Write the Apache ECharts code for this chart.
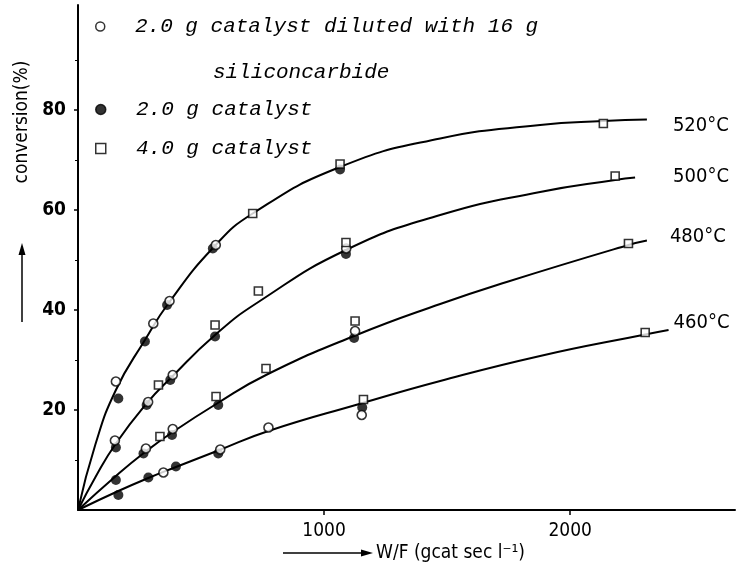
<!DOCTYPE html>
<html><head><meta charset="utf-8">
<script src="https://cdn.jsdelivr.net/npm/echarts@6/dist/echarts.min.js"></script>
<style>html,body{margin:0;padding:0;background:#fff}#c{width:742px;height:576px}</style>
</head><body><div id="c"></div>
<script>
// ---- data ----
const curveNames = ['520°C', '500°C', '480°C', '460°C'];
const curve520 = [[0,0],[70,13],[154,24],[272,34],[367,41.3],[550,52.5],[710,59.3],[1065,68.6],[1472,74.3],[1878,77],[2135,77.8],[2312,78.1]];
const curve500 = [[0,0],[70,6.5],[154,13.3],[279,21.3],[377,26.4],[557,35],[733,41.6],[1089,52],[1472,59],[1878,63.6],[2183,66],[2264,66.5]];
const curve480 = [[0,0],[154,6.8],[270,11.5],[385,15.6],[565,21.3],[764,27],[1122,34.8],[1472,41.2],[1742,45.6],[2237,53],[2312,53.9]];
const curve460 = [[0,0],[164,3.8],[286,6.4],[398,8.6],[570,11.9],[774,15.8],[1150,21.3],[1472,25.8],[1878,30.8],[2305,35.1],[2400,36]];

const seriesNames = ['2.0 g catalyst diluted with 16 g', '2.0 g catalyst', '4.0 g catalyst'];
const dilutedPts = [[154,25.7],[306,37.3],[372,41.8],[560,53],[150,13.9],[285,21.6],[385,27],[1090,52.3],[276,12.3],[385,16.2],[1126,35.8],[347,7.5],[578,12.1],[774,16.5],[1153,19]];
const cat2Pts = [[164,22.3],[272,33.7],[362,41],[548,52.3],[1065,68.1],[154,12.5],[279,21],[375,26],[557,34.7],[1089,51.2],[154,6],[266,11.3],[382,15],[570,21],[1122,34.4],[164,3],[286,6.5],[398,8.7],[570,11.3],[1155,20.5]];
const cat4Pts = [[710,59.3],[1065,69.2],[2135,77.3],[327,25],[557,37],[733,43.8],[1089,53.5],[2183,66.8],[333,14.7],[561,22.7],[764,28.3],[1126,37.8],[2237,53.3],[1160,22.1],[2305,35.5]];

const xTicks = [1000, 2000];
const yTicks = [20, 40, 60, 80];

// ---- chart ----
const chart = echarts.init(document.getElementById('c'), null, {renderer: 'canvas'});
const numFont = '"DejaVu Sans Condensed", "DejaVu Sans", sans-serif';
const monoFont = '"Liberation Mono", "DejaVu Sans Mono", monospace';

function curve(name, data, dist, off) {
  return {
    type: 'line', name: name, data: data, symbol: 'none', smooth: 0.5,
    lineStyle: {color: '#000', width: 2}, z: 2, silent: true,
    endLabel: {show: true, formatter: name, distance: dist, offset: off,
      color: '#000', fontFamily: numFont, fontSize: 20}
  };
}

const legendText = {fontFamily: monoFont, fontStyle: 'italic', fontSize: 21, color: '#000'};

const option = {
  animation: false,
  backgroundColor: '#fff',
  grid: {left: 78, right: 7, top: 5, bottom: 66, containLabel: false},
  xAxis: {
    type: 'value', min: 0, max: 2670,
    axisLine: {show: true, onZero: false, lineStyle: {color: '#000', width: 2}},
    axisTick: {show: true, customValues: xTicks, length: 5, inside: false, lineStyle: {color: '#000', width: 1.5}},
    axisLabel: {customValues: xTicks, formatter: v => String(v), color: '#000', fontFamily: numFont, fontSize: 19, margin: 12},
    splitLine: {show: false}
  },
  yAxis: {
    type: 'value', min: 0, max: 101, interval: 20,
    axisLine: {show: true, onZero: false, lineStyle: {color: '#000', width: 2}},
    axisTick: {show: true, customValues: yTicks, length: 4, lineStyle: {color: '#000', width: 1.5}},
    minorTick: {show: true, splitNumber: 2, length: 3, lineStyle: {color: '#000', width: 1}},
    axisLabel: {customValues: yTicks, formatter: v => String(v), color: '#000', fontFamily: numFont, fontSize: 19, fontWeight: 'bold', margin: 12},
    splitLine: {show: false}
  },
  legend: [
    {data: [seriesNames[0]], left: 95, top: 16, padding: 0, itemWidth: 9, itemHeight: 9,
     formatter: n => '  ' + n, textStyle: legendText,
     itemStyle: {borderWidth: 1.5}},
    {data: [seriesNames[1], seriesNames[2]], orient: 'vertical', left: 95, top: 99, padding: 0,
     itemGap: 18, itemWidth: 10, itemHeight: 10, formatter: n => '  ' + n,
     textStyle: legendText, itemStyle: {borderWidth: 1.5}}
  ],
  series: [
    curve(curveNames[0], curve520, 26, [0, 6]),
    curve(curveNames[1], curve500, 38, [0, -1]),
    curve(curveNames[2], curve480, 23, [0, -4]),
    curve(curveNames[3], curve460, 5, [0, -7]),
    {type: 'scatter', name: seriesNames[0], data: dilutedPts, symbol: 'circle', symbolSize: 9, z: 4,
     itemStyle: {color: '#fff', borderColor: '#000', borderWidth: 1.6}},
    {type: 'scatter', name: seriesNames[1], data: cat2Pts, symbol: 'circle', symbolSize: 10, z: 3,
     itemStyle: {color: '#000', borderColor: '#000', borderWidth: 0}},
    {type: 'scatter', name: seriesNames[2], data: cat4Pts, symbol: 'rect', symbolSize: 8, z: 4,
     itemStyle: {color: '#fff', borderColor: '#000', borderWidth: 1.6}}
  ],
  graphic: [
    {type: 'text', left: 213, top: 62, style: {text: 'siliconcarbide', font: 'italic 21px ' + monoFont, fill: '#000'}},
    {type: 'text', x: 22, y: 122, rotation: Math.PI / 2,
     style: {text: 'conversion(%)', font: '19px ' + numFont, fill: '#000', align: 'center', verticalAlign: 'middle'}},
    {type: 'line', shape: {x1: 22, y1: 322, x2: 22, y2: 252}, style: {stroke: '#000', lineWidth: 1.5}},
    {type: 'polygon', shape: {points: [[22, 243], [18.5, 255], [25.5, 255]]}, style: {fill: '#000'}},
    {type: 'line', shape: {x1: 283, y1: 553, x2: 362, y2: 553}, style: {stroke: '#000', lineWidth: 1.5}},
    {type: 'polygon', shape: {points: [[373, 553], [361, 549.5], [361, 556.5]]}, style: {fill: '#000'}},
    {type: 'text', x: 376, y: 553,
     style: {text: 'W/F (gcat sec l⁻¹)', font: '19px ' + numFont, fill: '#000', align: 'left', verticalAlign: 'middle'}}
  ]
};
chart.setOption(option);
</script>
</body></html>
